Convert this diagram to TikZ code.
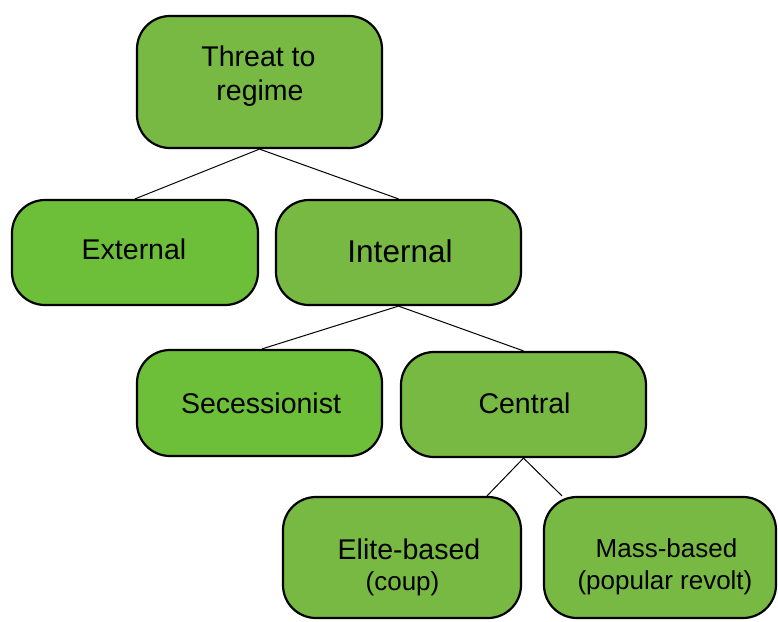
\documentclass[tikz,border=0pt]{standalone}
\usepackage{fontspec}
\setmainfont{Liberation Sans}
\usetikzlibrary{calc}

\definecolor{leafgreen}{RGB}{119,185,67}
\definecolor{brightgreen}{RGB}{109,191,57}

\tikzset{
  box/.style={draw=black, line width=2.2pt, rounded corners=33pt,
    rectangle, inner sep=0pt, minimum width=#1},
  box/.default=245pt,
  caption/.style={anchor=base, inner sep=0pt, text=black},
  branch/.style={draw=black, line width=1pt},
}

\newcommand{\bigtxt}{\fontsize{28.5}{34}\selectfont}
\newcommand{\hugetxt}{\fontsize{31.5}{38}\selectfont}
\newcommand{\smalltxt}{\fontsize{26}{31}\selectfont}

\begin{document}
\begin{tikzpicture}[x=1pt, y=-1pt]
  \useasboundingbox (0,0) rectangle (778,621);

  % boxes of the tree
  \node[box, fill=leafgreen,   minimum height=132pt] (threat)   at (259.5,82)  {};
  \node[box=246pt, fill=brightgreen, minimum height=105pt] (external) at (135,252.5) {};
  \node[box, fill=leafgreen,   minimum height=105pt] (internal) at (398.5,252.5) {};
  \node[box, fill=brightgreen, minimum height=106pt] (secess)   at (259.5,403) {};
  \node[box, fill=leafgreen,   minimum height=105pt] (central)  at (523.5,404.5) {};
  \node[box=238pt, fill=leafgreen, minimum height=121pt] (elite) at (402,557.5) {};
  \node[box=232pt, fill=leafgreen, minimum height=121pt] (mass)  at (660,557.5) {};

  % texts
  \node[caption, font=\bigtxt]   (threat1) at (258.5,66.7) {Threat to};
  \node[caption, font=\bigtxt]   (threat2) at (260,100)  {regime};
  \node[caption, font=\bigtxt]   (ext)     at (134,259)  {External};
  \node[caption, font=\hugetxt]  (int)     at (400,262)  {Internal};
  \node[caption, font=\bigtxt]   (sec)     at (261,413)  {Secessionist};
  \node[caption, font=\bigtxt]   (cen)     at (524.5,413) {Central};
  \node[caption, font=\bigtxt]   (eli1)    at (409,559)  {Elite-based};
  \node[caption, font=\smalltxt] (eli2)    at (402.5,590) {(coup)};
  \node[caption, font=\smalltxt] (mas1)    at (666.5,557) {Mass-based};
  \node[caption, font=\smalltxt] (mas2)    at (665,589)  {(popular revolt)};

  % branches
  \draw[branch] (threat.south) -- (external.north);
  \draw[branch] (threat.south) -- (internal.north);
  \draw[branch] (internal.south) -- ($(secess.north)+(2.5,0)$);
  \draw[branch] (internal.south) -- (central.north);
  \draw[branch] (central.south) -- ($(elite.north)+(85,0)$);
  \draw[branch] (central.south) -- ($(mass.north)+(-98,0)$);
\end{tikzpicture}
\end{document}
